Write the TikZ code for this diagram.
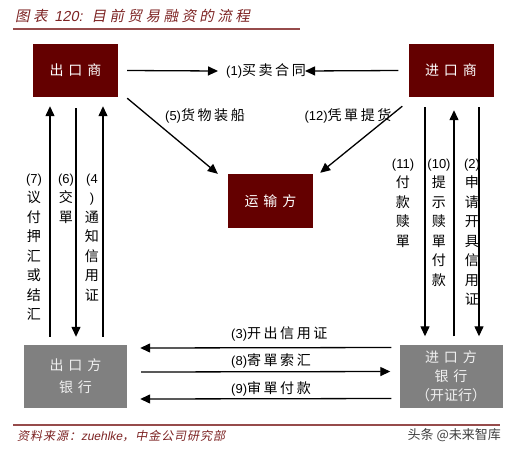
\documentclass[tikz,border=0pt]{standalone}
\usepackage{fontspec}
\setmainfont{Liberation Sans}
\newfontfamily\cjk[LetterSpace=18,Scale=1.08]{Noto Sans CJK SC}
\newfontfamily\cjkplain[Scale=1.08]{Noto Sans CJK SC}
\newfontfamily\cjkwm{Noto Sans CJK SC}
\newfontfamily\cjkbox[LetterSpace=35]{Noto Sans CJK SC}
\newfontfamily\cjkit[FakeSlant=0.2,LetterSpace=24]{Noto Sans CJK SC}
\newfontfamily\cjkitsm[FakeSlant=0.2,LetterSpace=8]{Noto Sans CJK SC}
\newfontfamily\latit[FakeSlant=0.2]{Liberation Sans}
\usetikzlibrary{arrows.meta}
\definecolor{boxred}{RGB}{100,0,0}
\definecolor{boxgray}{RGB}{128,128,128}
\definecolor{titlered}{RGB}{125,35,35}
\definecolor{rulered}{RGB}{150,75,75}
\begin{document}
\begin{tikzpicture}[x=1pt,y=-1pt,
  redbox/.style={fill=boxred,draw=none,minimum width=85pt,minimum height=53pt,inner sep=0pt,
    text=white,font=\fontsize{14}{16}\selectfont\cjkbox},
  graybox/.style={fill=boxgray,draw=none,minimum width=103pt,minimum height=63pt,inner sep=0pt,
    text=white!94!black,align=center},
  arr/.style={-{Triangle[length=10pt,width=9pt]},line width=1.3pt},
  lbl/.style={inner sep=0pt,font=\fontsize{13}{16}\selectfont},
  vlbl/.style={inner sep=0pt,align=center,anchor=north,font=\fontsize{13}{19.5}\selectfont\cjkplain}]
\useasboundingbox (0,0) rectangle (510,450);
\fill[white] (0,0) rectangle (510,450);
% title
\node[anchor=west,inner sep=0pt,text=titlered,font=\fontsize{14.5}{16}\selectfont] (title) at (15,16)
  {\cjkit 图表 {\latit 120:} \cjkit 目前贸易融资的流程};
\draw[rulered,line width=1.2pt] (13,29) -- (300,29);
% boxes
\node[redbox] (expo) at (75.5,70.5) {出口商};
\node[redbox] (impo) at (451,70.5) {进口商};
\node[redbox,minimum height=54pt] (trans) at (270.5,201) {运输方};
\node[graybox,font=\fontsize{14}{22}\selectfont\cjkbox] (expbank) at (75.5,376.5) {出口方\\银行};
\node[graybox,font=\fontsize{14}{19}\selectfont\cjkbox] (impbank) at (451,376) {进口方\\银行\\{\cjkwm （开证行）}};
% top labels and arrows
\node[lbl,anchor=west] (l1) at (226,71) {(1){\cjk 买卖合同}};
\draw[arr] ([xshift=9pt]expo.east) -- ([xshift=-8pt]l1.west);
\draw[arr] ([xshift=-10pt]impo.west) -- ([xshift=-1pt]l1.east);
\node[lbl] (l5) at (205,116) {(5){\cjk 货物装船}};
\node[lbl] (l12) at (348,116) {(12){\cjk 凭單提货}};
\draw[arr] ([xshift=9pt,yshift=-1pt]expo.south east) -- ([xshift=-10pt]trans.north west);
\draw[arr] ([xshift=-6pt,yshift=-9pt]impo.south west) -- ([xshift=7pt,yshift=1pt]trans.north east);
% left verticals
\draw[arr] ([xshift=-25.5pt,yshift=8pt]expbank.north) -- ([xshift=-25.5pt,yshift=-9pt]expo.south);
\draw[arr] ([xshift=0.5pt,yshift=-11pt]expo.south) -- ([xshift=0.5pt,yshift=8pt]expbank.north);
\draw[arr] ([xshift=27.5pt,yshift=8pt]expbank.north) -- ([xshift=27.5pt,yshift=-9pt]expo.south);
\node[vlbl] (l7) at (34,173.5) {{\rmfamily (7)}\\议\\付\\押\\汇\\或\\结\\汇};
\node[vlbl] (l6) at (66,173.5) {{\rmfamily (6)}\\交\\單};
\node[vlbl] (l4) at (92,173.5) {{\rmfamily (4}\\{\rmfamily )}\\通\\知\\信\\用\\证};
% right verticals
\draw[arr] ([xshift=-26pt,yshift=-10pt]impo.south) -- ([xshift=-26pt,yshift=8pt]impbank.north);
\draw[arr] ([xshift=3pt,yshift=8pt]impbank.north) -- ([xshift=3pt,yshift=-13pt]impo.south);
\draw[arr] ([xshift=28pt,yshift=-10pt]impo.south) -- ([xshift=28pt,yshift=8pt]impbank.north);
\node[vlbl] (l11) at (403,158.5) {{\rmfamily (11)}\\付\\款\\赎\\單};
\node[vlbl] (l10) at (439,158.5) {{\rmfamily (10)}\\提\\示\\赎\\單\\付\\款};
\node[vlbl] (l2) at (472,158.5) {{\rmfamily (2)}\\申\\请\\开\\具\\信\\用\\证};
% bottom arrows
\node[lbl,anchor=west] (l3) at (231,334) {(3){\cjk 开出信用证}};
\node[lbl,anchor=west] (l8) at (231,361) {(8){\cjk 寄單索汇}};
\node[lbl,anchor=west] (l9) at (231,389) {(9){\cjk 审單付款}};
\draw[arr] ([xshift=-8pt,yshift=28.5pt]impbank.west) -- ([xshift=13pt,yshift=28.5pt]expbank.east);
\draw[arr] ([xshift=14pt,yshift=4.5pt]expbank.east) -- ([xshift=-9pt,yshift=4.5pt]impbank.west);
\draw[arr] ([xshift=-8pt,yshift=-22.5pt]impbank.west) -- ([xshift=13pt,yshift=-22.5pt]expbank.east);
% footer
\draw[rulered,line width=1.2pt] (13,425) -- (500,425);
\node[anchor=west,inner sep=0pt,text=titlered,font=\fontsize{12}{14}\selectfont] (src) at (17,436)
  {\cjkitsm 资料来源：{\latit zuehlke}\cjkitsm ，中金公司研究部};
\node[anchor=east,inner sep=0pt,text=black!75,font=\fontsize{13}{15}\selectfont\cjkwm] (wm) at (501,435) {头条 @未来智库};
\end{tikzpicture}
\end{document}
